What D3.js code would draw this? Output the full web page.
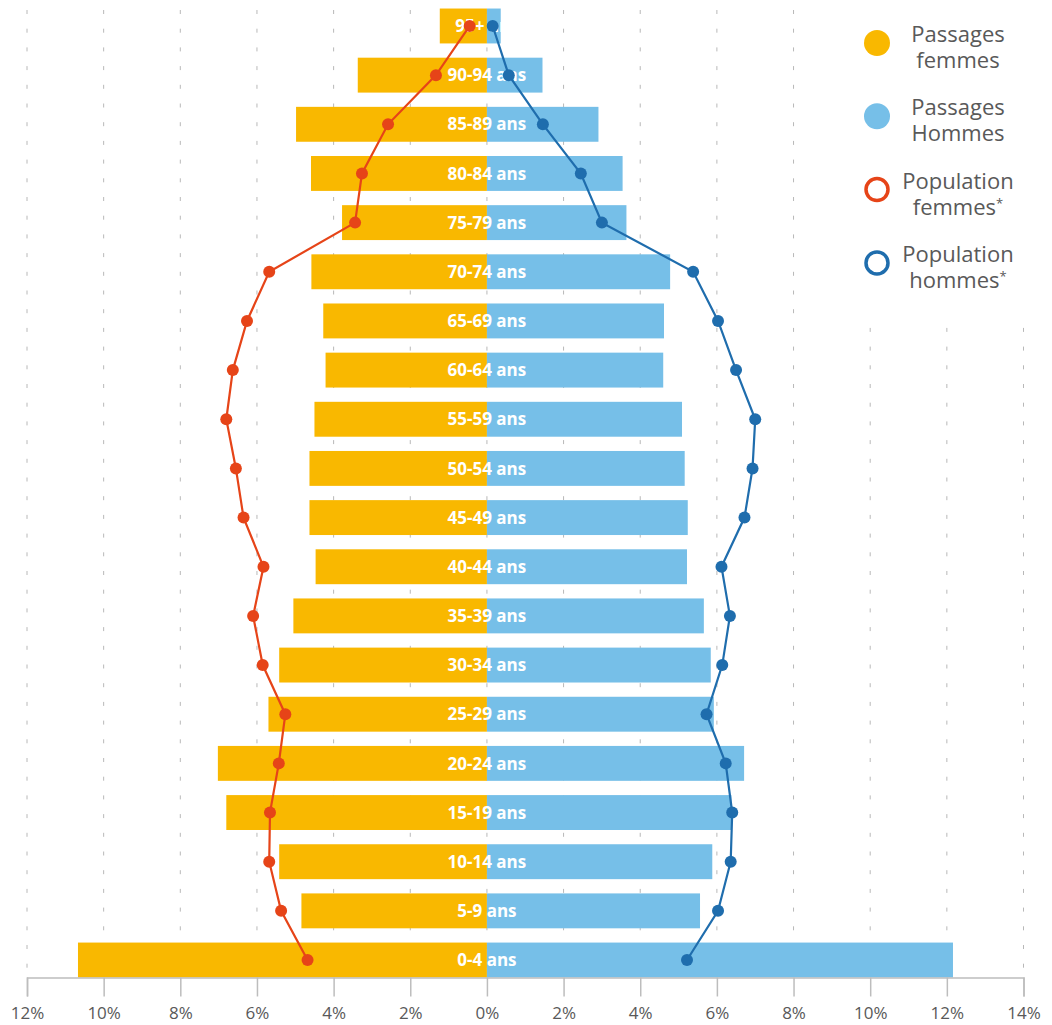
<!DOCTYPE html>
<html>
<head>
<meta charset="utf-8">
<script src="https://cdn.jsdelivr.net/npm/d3@7"></script>
<style>
  body { margin: 0; background: #fff; }
  svg { display: block; font-family: "Open Sans", Roboto, sans-serif; }
</style>
</head>
<body>
<svg id="chart" width="1052" height="1025"></svg>
<script>
// tranches d'âge, du haut vers le bas
const ages = ["95+ ans", "90-94 ans", "85-89 ans", "80-84 ans", "75-79 ans", "70-74 ans",
  "65-69 ans", "60-64 ans", "55-59 ans", "50-54 ans", "45-49 ans", "40-44 ans",
  "35-39 ans", "30-34 ans", "25-29 ans", "20-24 ans", "15-19 ans", "10-14 ans",
  "5-9 ans", "0-4 ans"];

// valeurs en %
const passagesFemmes = [1.23, 3.37, 4.98, 4.59, 3.78, 4.58, 4.27, 4.21, 4.50, 4.63,
  4.63, 4.47, 5.05, 5.42, 5.70, 7.02, 6.80, 5.42, 4.84, 10.67];
const passagesHommes = [0.36, 1.45, 2.91, 3.54, 3.64, 4.78, 4.62, 4.60, 5.09, 5.16,
  5.24, 5.22, 5.66, 5.84, 5.92, 6.71, 6.38, 5.88, 5.56, 12.16];
const populationFemmes = [0.45, 1.33, 2.58, 3.26, 3.44, 5.68, 6.26, 6.63, 6.80, 6.55,
  6.35, 5.83, 6.10, 5.85, 5.26, 5.43, 5.66, 5.68, 5.37, 4.68];
const populationHommes = [0.15, 0.57, 1.46, 2.45, 3.00, 5.38, 6.03, 6.50, 7.00, 6.93,
  6.72, 6.12, 6.34, 6.14, 5.73, 6.23, 6.40, 6.36, 6.03, 5.22];

const tickValues = [-12, -10, -8, -6, -4, -2, 0, 2, 4, 6, 8, 10, 12, 14];

const legendItems = [
  { lines: ["Passages", "femmes"], color: "#f9b800", filled: true, star: false },
  { lines: ["Passages", "Hommes"], color: "#76bfe8", filled: true, star: false },
  { lines: ["Population", "femmes"], color: "#e64418", filled: false, star: true },
  { lines: ["Population", "hommes"], color: "#1f6dad", filled: false, star: true },
];

const COLORS = {
  femmes: "#f9b800",
  hommes: "#76bfe8",
  popF: "#e64418",
  popH: "#1f6dad",
  grid: "#b8b8b8",
  axis: "#bdbdbd",
  text: "#595959",
};

const svg = d3.select("#chart");

const x = d3.scaleLinear().domain([-12, 14]).range([27, 1023.5]);
const y = d3.scaleBand().domain(ages).range([1.4, 984.6]).paddingInner(0.29).paddingOuter(0.145);
const axisY = y("0-4 ans") + y.bandwidth();

// ============================================================
// grille
// ============================================================
svg.append("g")
  .selectAll("line")
  .data(tickValues)
  .join("line")
  .attr("x1", (d) => x(d))
  .attr("x2", (d) => x(d))
  .attr("y1", 10)
  .attr("y2", axisY)
  .attr("stroke", COLORS.grid)
  .attr("stroke-width", 1)
  .attr("stroke-dasharray", "4,14.7");

// ============================================================
// barres
// ============================================================
const bars = svg.append("g");
bars.selectAll("rect.f")
  .data(ages)
  .join("rect")
  .attr("class", "f")
  .attr("x", (d, i) => x(-passagesFemmes[i]))
  .attr("y", (d) => y(d))
  .attr("width", (d, i) => x(0) - x(-passagesFemmes[i]))
  .attr("height", y.bandwidth())
  .attr("fill", COLORS.femmes);

bars.selectAll("rect.h")
  .data(ages)
  .join("rect")
  .attr("class", "h")
  .attr("x", x(0))
  .attr("y", (d) => y(d))
  .attr("width", (d, i) => x(passagesHommes[i]) - x(0))
  .attr("height", y.bandwidth())
  .attr("fill", COLORS.hommes);

// étiquettes d'âge
svg.append("g")
  .selectAll("text")
  .data(ages)
  .join("text")
  .attr("x", x(0))
  .attr("y", (d) => y(d) + y.bandwidth() / 2)
  .attr("dy", "0.36em")
  .attr("text-anchor", "middle")
  .attr("fill", "#fff")
  .attr("font-size", 17)
  .attr("font-weight", 700)
  .text((d) => d);

// ============================================================
// axe
// ============================================================
const axis = svg.append("g")
  .attr("transform", `translate(0,${axisY})`)
  .call(d3.axisBottom(x).tickValues(tickValues).tickSize(19).tickPadding(10)
    .tickFormat((d) => Math.abs(d) + "%"));
axis.select(".domain").attr("stroke", COLORS.axis).attr("stroke-width", 1.5);
axis.selectAll(".tick line").attr("stroke", COLORS.axis).attr("stroke-width", 1.5);
axis.selectAll(".tick text")
  .attr("fill", COLORS.text)
  .attr("font-size", 17)
  .attr("font-family", "'Open Sans', sans-serif");

// ============================================================
// courbes population
// ============================================================
function drawPopulation(values, sign, color) {
  const pts = ages.map((a, i) => [x(sign * values[i]), y(a) + y.bandwidth() / 2]);
  const g = svg.append("g");
  g.append("path")
    .attr("d", d3.line()(pts))
    .attr("fill", "none")
    .attr("stroke", color)
    .attr("stroke-width", 2.2);
  g.selectAll("circle")
    .data(pts)
    .join("circle")
    .attr("cx", (d) => d[0])
    .attr("cy", (d) => d[1])
    .attr("r", 6)
    .attr("fill", color);
}

drawPopulation(populationFemmes, -1, COLORS.popF);
drawPopulation(populationHommes, 1, COLORS.popH);

// ============================================================
// légende
// ============================================================
const legend = svg.append("g");
legend.append("rect")
  .attr("x", 850)
  .attr("y", 0)
  .attr("width", 202)
  .attr("height", 318)
  .attr("fill", "#fff");

const item = legend.selectAll("g.item")
  .data(legendItems)
  .join("g")
  .attr("class", "item")
  .attr("transform", (d, i) => `translate(0,${43 + i * 73.3})`);

item.append("circle")
  .attr("cx", 877)
  .attr("cy", 0)
  .attr("r", (d) => (d.filled ? 13 : 11))
  .attr("fill", (d) => (d.filled ? d.color : "#fff"))
  .attr("stroke", (d) => (d.filled ? "none" : d.color))
  .attr("stroke-width", 3.5);

const lbl = item.append("text")
  .attr("fill", COLORS.text)
  .attr("font-size", 22)
  .attr("text-anchor", "middle");

lbl.append("tspan")
  .attr("x", 958)
  .attr("y", -1)
  .text((d) => d.lines[0]);
lbl.append("tspan")
  .attr("x", 958)
  .attr("y", 25)
  .text((d) => d.lines[1]);
lbl.filter((d) => d.star)
  .append("tspan")
  .attr("dy", -7)
  .attr("font-size", 13)
  .text("*");
</script>
</body>
</html>
